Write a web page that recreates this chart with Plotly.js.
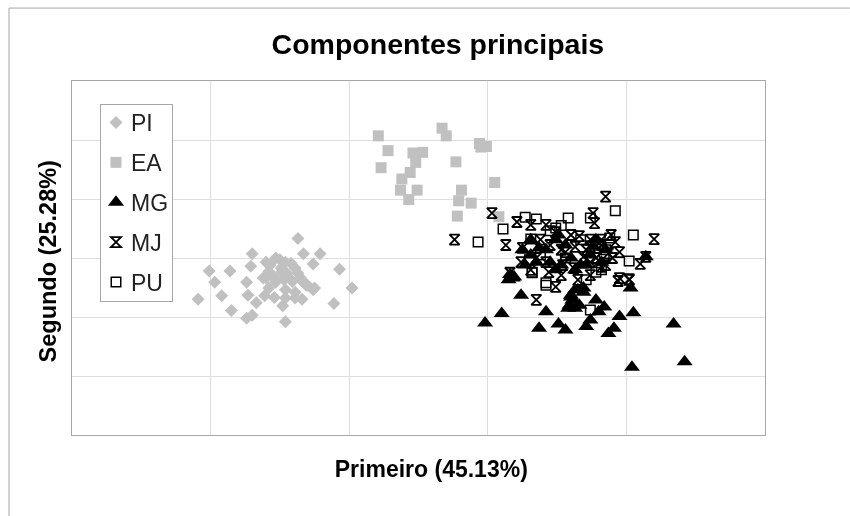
<!DOCTYPE html>
<html><head><meta charset="utf-8">
<script src="https://cdn.plot.ly/plotly-3.0.1.min.js"></script>
<style>html,body{margin:0;padding:0;background:#fff}#chart{filter:blur(0.5px)}</style>
</head><body><div id="chart" style="width:850px;height:516px"></div>
<script>
const piX=[-1.37,-1.70,-1.33,-1.21,-1.71,-1.26,-2.01,-1.86,-1.07,-1.97,-1.74,-0.98,-1.92,-1.73,-2.09,-1.61,-1.54,-1.67,-1.46,-1.39,-1.34,-1.48,-1.11,-1.85,-1.70,-1.74,-1.46,-1.57,-1.50,-1.42,-1.60,-1.54,-1.47,-1.41,-1.35,-1.30,-1.25,-1.37,-1.58,-1.49,-1.45,-1.60,-1.53,-1.46,-1.39,-1.57,-1.49,-1.42,-1.35,-1.31,-1.53,-1.62,-1.46,-1.58,-1.39,-1.26];
const piY=[0.33,0.07,0.07,0.07,-0.14,-0.10,-0.22,-0.22,-0.19,-0.41,-0.41,-0.51,-0.64,-0.63,-0.70,-0.64,-0.67,-0.76,-0.68,-0.68,-0.70,-0.81,-0.77,-0.89,-0.97,-1.02,-1.08,-0.12,-0.03,-0.09,-0.34,-0.34,-0.37,-0.40,-0.34,-0.46,-0.51,-0.26,-0.23,-0.17,-0.26,-0.07,0.00,-0.07,-0.17,-0.29,-0.24,-0.37,-0.37,-0.46,-0.41,-0.34,-0.54,-0.51,-0.58,-0.54];
const eaX=[-0.79,-0.72,-0.77,-0.54,-0.47,-0.52,-0.56,-0.62,-0.63,-0.51,-0.57,-0.33,-0.30,-0.23,-0.06,-0.01,-0.05,0.05,-0.19,-0.21,-0.12,-0.22,0.08];
const eaY=[2.07,1.82,1.53,1.78,1.79,1.62,1.45,1.34,1.15,1.15,0.99,2.20,2.07,1.63,1.94,1.89,1.88,1.28,1.15,0.97,0.93,0.71,0.70];
const mgX=[-0.02,0.10,0.24,0.42,0.37,0.51,0.56,0.71,0.74,0.87,0.91,0.95,1.05,1.34,1.42,1.04,1.03,0.78,0.84,0.80,0.63,0.59,0.60,0.65,0.69,0.18,0.17,0.25,0.31,0.49,0.45,0.53,0.63,0.71,0.82,0.76,0.37,0.16,1.14,0.31,0.35,0.42,0.51,0.60,0.67,0.74,0.85,0.56,0.27,0.49,0.78,0.60,0.63,0.61,0.66,0.58,0.69,0.15,0.19];
const mgY=[-1.10,-0.94,-0.63,-0.91,-1.19,-1.12,-1.22,-1.16,-1.05,-1.28,-1.19,-0.99,-0.93,-1.12,-1.76,-1.85,-0.51,-0.71,-0.83,-0.91,-0.85,-0.80,-0.66,-0.54,-0.51,-0.34,-0.31,0.14,0.05,0.31,-0.07,-0.12,-0.20,-0.12,-0.07,0.20,0.17,-0.28,0.02,0.31,-0.07,0.14,0.39,0.00,-0.12,0.05,0.14,0.22,-0.12,-0.20,0.31,-0.63,-0.54,-0.71,-0.80,-0.85,-0.58,-0.37,-0.32];
const mjX=[0.03,-0.24,0.13,0.21,0.16,0.44,0.85,0.76,0.77,1.20,1.14,1.10,0.66,0.74,0.89,0.92,0.56,0.69,0.87,0.95,1.02,0.74,0.82,0.62,0.54,0.35,0.49,0.94,1.02,0.65,0.31,0.49,0.38,0.63,0.82,0.24,0.53,0.74,0.90,0.35,0.45,0.25,0.42,0.60,0.71,0.78,0.85,0.95,0.31,0.53,0.82,0.42,0.74];
const mjY=[0.76,0.31,0.22,0.61,-0.25,-0.24,1.04,0.76,0.59,0.32,0.02,-0.10,0.37,0.31,0.39,0.27,0.10,0.02,0.08,-0.34,-0.37,0.20,-0.15,-0.17,-0.12,-0.71,-0.49,-0.39,-0.36,-0.37,0.56,0.44,0.31,0.19,0.22,-0.07,0.14,-0.07,0.00,0.00,0.22,0.17,-0.07,0.39,0.14,0.00,-0.12,0.10,-0.20,-0.29,0.31,0.56,-0.29];
const puX=[-0.07,0.11,0.27,0.35,0.45,0.53,0.32,0.31,0.58,0.30,0.42,0.92,1.05,0.74,1.02,0.78,0.71,0.84,0.88,0.42,0.74,0.32,0.49,0.38,0.56,0.67,0.85,0.82];
const puY=[0.27,0.49,0.69,0.66,0.46,0.55,-0.24,0.32,0.68,-0.03,-0.42,0.80,0.39,0.68,-0.05,-0.24,-0.37,0.02,0.34,-0.46,-0.88,-0.25,0.51,0.05,0.00,0.31,0.14,-0.20];
const xTicks=[-3,-2,-1,0,1,2];
const yTicks=[-3,-2,-1,0,1,2,3];
const FONT='"Liberation Sans", Arial, sans-serif';
function scat(name,x,y,marker){return {type:'scatter',mode:'markers',name:name,legendgroup:name,x:x,y:y,marker:marker,hoverinfo:'x+y+name'};}
const traces=[
 scat('PI',piX,piY,{symbol:'diamond',size:10,color:'#c0c0c0'}),
 scat('EA',eaX,eaY,{symbol:'square',size:11,color:'#c0c0c0'}),
 scat('MG',mgX,mgY,{symbol:'triangle-up',size:14,color:'#000'}),
 scat('MJ',mjX,mjY,{symbol:'hourglass-open',size:10,color:'#000',line:{color:'#000',width:1.8}}),
 scat('PU',puX,puY,{symbol:'square-open',size:9.5,color:'#000',line:{color:'#000',width:1.5}})
];
const axisBase={showticklabels:false,ticks:'',showgrid:true,gridcolor:'#dedede',gridwidth:1,zeroline:false,showline:true,linecolor:'#a6a6a6',linewidth:1,mirror:true};
const layout={
 width:850,height:516,paper_bgcolor:'#fff',plot_bgcolor:'#fff',
 margin:{l:72,r:85,t:81,b:81},
 font:{family:FONT,color:'#000'},
 title:{text:'<b>Componentes principais</b>',font:{size:28.5,family:FONT,color:'#000'},xref:'paper',x:0.528,xanchor:'center',yref:'container',y:0.915,yanchor:'middle'},
 xaxis:Object.assign({},axisBase,{range:[-3,2],tickvals:xTicks,title:{text:'<b>\u00a0\u00a0\u00a0\u00a0Primeiro (45.13%)</b>',font:{size:23,family:FONT},standoff:25}}),
 yaxis:Object.assign({},axisBase,{range:[-3,3],tickvals:yTicks,title:{text:'<b>Segundo (25.28%)\u00a0</b>',font:{size:23.5,family:FONT},standoff:7}}),
 legend:{x:0.0404,y:0.9463,xanchor:'left',yanchor:'top',bgcolor:'#fff',bordercolor:'#a6a6a6',borderwidth:1,font:{size:23,family:FONT,color:'#222'},traceorder:'grouped',tracegroupgap:7,itemclick:false,itemdoubleclick:false},
 shapes:[
  {type:'line',xref:'paper',yref:'paper',x0:-0.0909,x1:-0.0909,y0:-0.229,y1:1.206,line:{color:'#a6a6a6',width:1}},
  {type:'line',xref:'paper',yref:'paper',x0:-0.0909,x1:1.1226,y0:1.206,y1:1.206,line:{color:'#a6a6a6',width:1}}
 ]
};
Plotly.newPlot('chart',traces,layout,{displayModeBar:false,responsive:false}).then(function(){
 document.querySelectorAll('#chart .legend .legendtext').forEach(function(t){t.setAttribute('x','30');});
 document.querySelectorAll('#chart .legend .legendsymbols').forEach(function(s){s.setAttribute('transform','translate(-5,0)');});
 var bg=document.querySelector('#chart .legend .bg'); if(bg){bg.setAttribute('width','72');bg.setAttribute('y','4.5');bg.setAttribute('height','197');}
});
</script></body></html>
